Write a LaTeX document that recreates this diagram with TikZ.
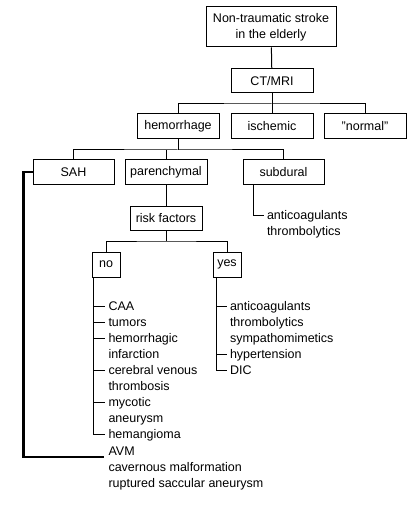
\documentclass[tikz,border=0pt]{standalone}
\usepackage{fontspec}
\setmainfont{Liberation Sans}

\begin{document}
\begin{tikzpicture}[x=1bp, y=-1bp, line width=1bp]
    \tikzstyle{box}=[draw, inner sep=0pt, minimum width=82bp, minimum height=25bp,
                     align=center, font=\fontsize{12.5bp}{16bp}\selectfont]
    \tikzstyle{item}=[anchor=base west, inner xsep=3bp, inner ysep=0pt,
                      text height=10bp, text depth=2bp, font=\fontsize{12.5bp}{16bp}\selectfont]

    \useasboundingbox (0,0) rectangle (418,514);

    % boxes
    \node[box, minimum width=130bp, minimum height=40bp] (stroke) at (271,27)   {Non-traumatic stroke\\in the elderly};
    \node[box, minimum height=24bp]                      (ct)     at (272,81)   {CT/MRI};
    \node[box]                                           (hem)    at (178,126.5) {hemorrhage};
    \node[box]                                           (isch)   at (272,126.5) {ischemic};
    \node[box]                                           (norm)   at (365,126.5) {"normal"};
    \node[box, minimum width=81bp]                       (sah)    at (73.5,172.5) {SAH};
    \node[box]                                           (par)    at (166,172.5) {parenchymal};
    \node[box, minimum width=81bp]                       (sub)    at (283.5,172.5) {subdural};
    \node[box, minimum width=72bp, minimum height=24bp]  (risk)   at (166,218)  {risk factors};
    \node[box, minimum width=28bp]                       (no)     at (106,264.5) {no};
    \node[box, minimum width=28bp]                       (yes)    at (227,264.5) {yes};

    % tree lines
    \coordinate (busA) at (272,104);
    \coordinate (busB) at (178,150);
    \coordinate (busC) at (166,241);
    \draw (stroke) -- (ct);
    \draw (ct) -- (isch);
    \draw (hem.north) |- (busA) -| (norm.north);
    \draw (hem) -- (busB);
    \draw (sah.north) |- (busB) -| (sub.north);
    \draw (par.north) -- (par.north |- busB);
    \draw (par) -- (risk);
    \draw (risk) -- (busC);
    \draw (no.north) |- (busC) -| (yes.north);

    % lists
    \foreach \txt [count=\i] in {CAA, tumors, hemorrhagic, infarction, cerebral venous,
                                 thrombosis, mycotic, aneurysm, hemangioma}
        \node[item] (no\i) at (105, 294+16*\i) {\txt};
    \foreach \txt [count=\i] in {AVM, cavernous malformation, ruptured saccular aneurysm}
        \node[item] (sah\i) at (105, 439+16*\i) {\txt};
    \foreach \txt [count=\i] in {anticoagulants, thrombolytics, sympathomimetics,
                                 hypertension, DIC}
        \node[item] (yes\i) at (226.5, 294+16*\i) {\txt};
    \foreach \txt [count=\i] in {anticoagulants, thrombolytics}
        \node[item] (sub\i) at (263.5, 203+16*\i) {\txt};

    \coordinate (noline)  at ([xshift=2.3bp]no.south west);
    \coordinate (yesline) at ([xshift=3.7bp]yes.south west);
    \coordinate (subline) at ([xshift=10.7bp]sub.south west);

    \draw (noline) |- (no9.west);
    \foreach \i in {1,2,3,5,7}
        \draw (noline |- no\i.west) -- (no\i.west);
    \draw (yesline) |- (yes5.west);
    \foreach \i in {1,4}
        \draw (yesline |- yes\i.west) -- (yes\i.west);
    \draw (subline) |- (sub1.west);
    \draw[line width=2bp] (sah.west) -- ++(-9,0) |- ([shift={(-1bp,-2bp)}]sah1.base west);
\end{tikzpicture}
\end{document}
